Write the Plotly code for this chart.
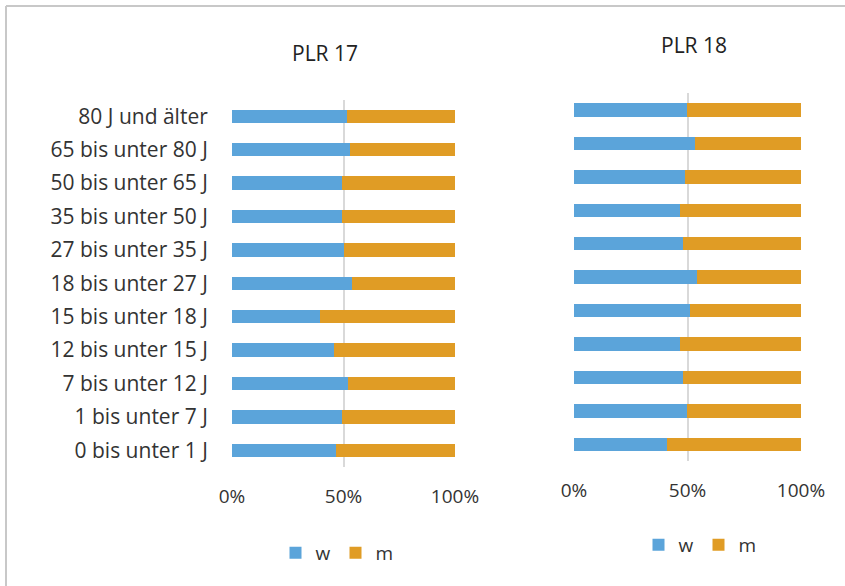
import plotly.graph_objects as go

categories = ["0 bis unter 1 J", "1 bis unter 7 J", "7 bis unter 12 J", "12 bis unter 15 J",
              "15 bis unter 18 J", "18 bis unter 27 J", "27 bis unter 35 J", "35 bis unter 50 J",
              "50 bis unter 65 J", "65 bis unter 80 J", "80 J und älter"]

plr17_w = [46.8, 49.5, 52.2, 45.9, 39.6, 53.9, 50.4, 49.5, 49.5, 53.0, 51.4]
plr17_m = [53.2, 50.5, 47.8, 54.1, 60.4, 46.1, 49.6, 50.5, 50.5, 47.0, 48.6]
plr18_w = [40.8, 49.7, 48.0, 46.9, 51.3, 54.1, 48.0, 46.9, 48.7, 53.1, 49.7]
plr18_m = [59.2, 50.3, 52.0, 53.1, 48.7, 45.9, 52.0, 53.1, 51.3, 46.9, 50.3]

x_ticks = [0, 50, 100]
x_tick_labels = ["0%", "50%", "100%"]

BLUE = "#5BA4DA"
ORANGE = "#E09C25"
GRID = "#D9D9D9"
TEXT = "#333333"
FONT = "Open Sans"

W, H = 845, 586

fig = go.Figure()
fig.add_trace(go.Bar(y=categories, x=plr17_w, name="w", orientation="h", marker_color=BLUE,
                     marker_line_width=0, xaxis="x", yaxis="y", legend="legend"))
fig.add_trace(go.Bar(y=categories, x=plr17_m, name="m", orientation="h", marker_color=ORANGE,
                     marker_line_width=0, xaxis="x", yaxis="y", legend="legend"))
fig.add_trace(go.Bar(y=categories, x=plr18_w, name="w", orientation="h", marker_color=BLUE,
                     marker_line_width=0, xaxis="x2", yaxis="y2", legend="legend2"))
fig.add_trace(go.Bar(y=categories, x=plr18_m, name="m", orientation="h", marker_color=ORANGE,
                     marker_line_width=0, xaxis="x2", yaxis="y2", legend="legend2"))

def px_x(v):
    return v / W

def px_y(v):
    return (H - v) / H

xcommon = dict(range=[0, 100], tickvals=x_ticks, ticktext=x_tick_labels, showgrid=True,
               gridcolor=GRID, gridwidth=1.5, zeroline=False, showline=False,
               ticks="outside", ticklen=12, tickcolor="rgba(0,0,0,0)", automargin=False,
               tickfont=dict(family=FONT, size=19, color=TEXT), fixedrange=True)

legend_common = dict(orientation="h", xanchor="center", yanchor="middle",
                     xref="container", yref="container",
                     font=dict(family=FONT, size=19, color=TEXT), bgcolor="rgba(0,0,0,0)",
                     itemwidth=30, traceorder="normal")

fig.update_layout(
    width=W, height=H, autosize=False,
    margin=dict(l=0, r=0, t=0, b=0, autoexpand=False),
    paper_bgcolor="white", plot_bgcolor="white",
    barmode="stack", bargap=0.6,
    font=dict(family=FONT, color=TEXT),
    xaxis=dict(domain=[px_x(232), px_x(455)], anchor="y", **xcommon),
    yaxis=dict(domain=[px_y(467), px_y(99.5)], anchor="x", showgrid=False, zeroline=False,
               showline=False, ticks="outside", ticklen=19, tickcolor="rgba(0,0,0,0)",
               automargin=False, fixedrange=True,
               tickfont=dict(family=FONT, size=21, color=TEXT), categoryorder="array",
               categoryarray=categories),
    xaxis2=dict(domain=[px_x(574), px_x(801)], anchor="y2", **xcommon),
    yaxis2=dict(domain=[px_y(461), px_y(93.3)], anchor="x2", showgrid=False, zeroline=False,
                showline=False, showticklabels=False, automargin=False, fixedrange=True,
                categoryorder="array", categoryarray=categories),
    legend=dict(x=px_x(337), y=px_y(553), **legend_common),
    legend2=dict(x=px_x(700), y=px_y(545), **legend_common),
    showlegend=True,
    annotations=[
        dict(text="PLR 17", x=px_x(325), y=px_y(53), xref="paper", yref="paper",
             showarrow=False, xanchor="center", yanchor="middle",
             font=dict(family=FONT, size=21, color="#222222")),
        dict(text="PLR 18", x=px_x(694), y=px_y(45), xref="paper", yref="paper",
             showarrow=False, xanchor="center", yanchor="middle",
             font=dict(family=FONT, size=21, color="#222222")),
    ],
    shapes=[
        dict(type="line", xref="paper", yref="paper", x0=px_x(6), x1=1, y0=px_y(6), y1=px_y(6),
             line=dict(color="#C8C8C8", width=2)),
        dict(type="line", xref="paper", yref="paper", x0=px_x(6), x1=px_x(6), y0=0, y1=px_y(6),
             line=dict(color="#C8C8C8", width=2)),
    ],
)

fig.write_html(
    "out.html",
    config={"displayModeBar": False, "responsive": False},
    post_script="document.body.style.margin='0';document.body.style.padding='0';"
                "document.documentElement.style.overflow='hidden';document.body.style.overflow='hidden';",
)
